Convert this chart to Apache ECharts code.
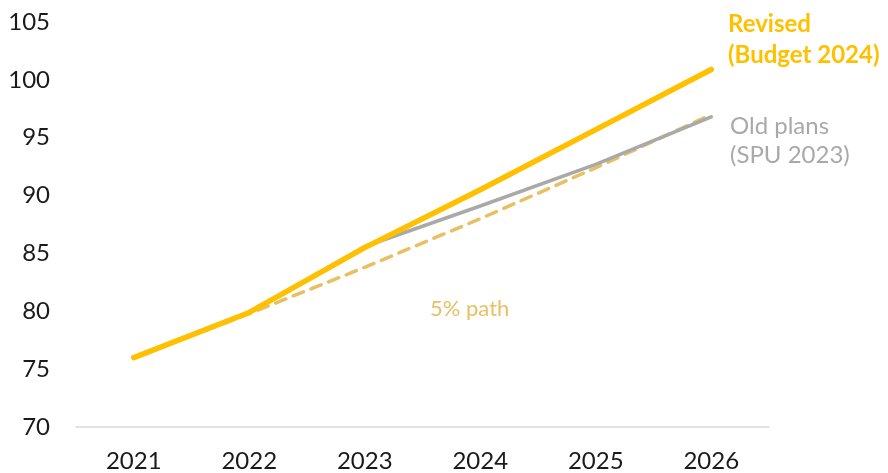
<!DOCTYPE html>
<html>
<head>
<meta charset="utf-8">
<script src="https://cdn.jsdelivr.net/npm/echarts@6/dist/echarts.min.js"></script>
<style>
  html, body { margin: 0; padding: 0; background: #fff; }
  #chart { width: 888px; height: 473px; }
</style>
</head>
<body>
<div id="chart"></div>
<script>
// Years on the horizontal axis
const years = ['2021', '2022', '2023', '2024', '2025', '2026'];
// Revised spending plans (Budget 2024)
const revised = [76.0, 79.9, 85.5, 90.5, 95.7, 100.9];
// Old plans (SPU 2023), diverging from 2023
const oldPlans = [76.0, 79.9, 85.6, 89.1, 92.7, 96.8];
// Reference path growing at 5% a year
const fivePct = [76.0, 79.8, 83.8, 88.0, 92.4, 97.0];
// Value axis ticks
const yTicks = [70, 75, 80, 85, 90, 95, 100, 105];

const FONT = 'Lato, "DejaVu Sans", sans-serif';
const GOLD = '#FFC000';
const GREY = '#A9A9A9';
const DASH = '#E8C064';

const chart = echarts.init(document.getElementById('chart'));
chart.setOption({
  animation: false,
  grid: { left: 76, right: 119, top: 22, bottom: 46, containLabel: false },
  xAxis: {
    type: 'category',
    data: years,
    boundaryGap: true,
    axisLine: { show: true, lineStyle: { color: '#D9D9D9', width: 1.5 } },
    axisTick: { show: false },
    axisLabel: { color: '#1a1a1a', fontSize: 24, fontFamily: FONT, margin: 22 }
  },
  yAxis: {
    type: 'value',
    min: yTicks[0],
    max: yTicks[yTicks.length - 1],
    interval: 5,
    axisLine: { show: false },
    axisTick: { show: false },
    splitLine: { show: false },
    axisLabel: { color: '#1a1a1a', fontSize: 24, fontFamily: FONT, margin: 26 }
  },
  series: [
    {
      name: '5% path', type: 'line', data: fivePct, symbol: 'none', z: 1,
      lineStyle: { color: DASH, width: 3.5, type: [11, 8], cap: 'round' }
    },
    {
      name: 'Old plans (SPU 2023)', type: 'line', data: oldPlans, symbol: 'none', z: 2,
      lineStyle: { color: GREY, width: 3.5, cap: 'round' }
    },
    {
      name: 'Revised (Budget 2024)', type: 'line', data: revised, symbol: 'none', z: 3,
      lineStyle: { color: GOLD, width: 5.5, cap: 'round', join: 'round' }
    }
  ],
  graphic: [
    {
      type: 'text', left: 728, top: 9,
      style: { text: 'Revised\n(Budget 2024)', fill: GOLD, font: 'bold 24px ' + FONT, lineHeight: 31 }
    },
    {
      type: 'text', left: 730, top: 112,
      style: { text: 'Old plans\n(SPU 2023)', fill: GREY, font: '24px ' + FONT, lineHeight: 29 }
    },
    {
      type: 'text', left: 430, top: 298,
      style: { text: '5% path', fill: DASH, font: '22px ' + FONT }
    }
  ]
});
</script>
</body>
</html>
